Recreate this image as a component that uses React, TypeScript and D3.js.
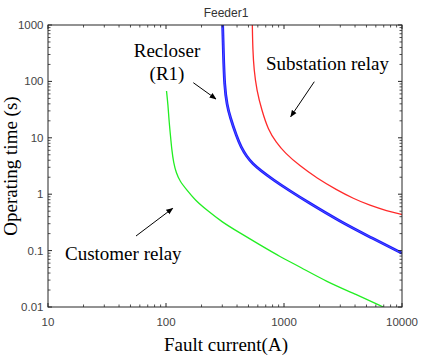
import React from "react";
import * as d3 from "d3";

const xTickValues = [10, 100, 1000, 10000];
const xTickLabels = ["10", "100", "1000", "10000"];
const yTickValues = [0.01, 0.1, 1, 10, 100, 1000];
const yTickLabels = ["0.01", "0.1", "1", "10", "100", "1000"];

const customerCurrent = [101, 104, 106, 109, 112, 116, 122, 131, 150, 176, 221, 298, 424, 626, 925, 1370, 2300, 4000, 6950];
const customerTime = [67.6, 38.2, 20.7, 11.2, 6.08, 3.6, 2.4, 1.7, 1.19, 0.789, 0.525, 0.321, 0.205, 0.126, 0.078, 0.0512, 0.0281, 0.017, 0.01];

const recloserCurrent = [302, 306, 313, 329, 349, 397, 432, 483, 546, 626, 812, 1125, 1557, 2985, 5355, 10000];
const recloserTime = [1000, 361, 80.5, 38.2, 23.4, 10.5, 6.87, 4.62, 3.43, 2.69, 1.79, 1.14, 0.743, 0.328, 0.174, 0.0895];

const substationCurrent = [539, 544, 557, 587, 647, 736, 855, 1019, 1367, 1892, 2797, 3866, 5355, 7420, 10000];
const substationTime = [1000, 361, 159, 70.4, 31.1, 13.7, 8.43, 5.37, 3.16, 1.94, 1.19, 0.839, 0.631, 0.508, 0.436];

const W = 422;
const H = 358;
const L = 48, R = 402, T = 25, B = 307;

export default function App() {
  const x = d3.scaleLog().domain([10, 10000]).range([L, R]);
  const y = d3.scaleLog().domain([0.01, 1000]).range([B, T]);
  const line = d3
    .line<[number, number]>()
    .x((d) => x(d[0]))
    .y((d) => y(d[1]))
    .curve(d3.curveBasis);

  const zip = (a: number[], b: number[]) => a.map((v, i) => [v, b[i]] as [number, number]);

  const xMinor: number[] = [];
  for (let p = 10; p < 10000; p *= 10) for (let k = 2; k <= 9; k++) xMinor.push(k * p);
  const yMinor: number[] = [];
  for (let p = 0.01; p < 1000; p *= 10) for (let k = 2; k <= 9; k++) yMinor.push(k * p);

  const axisColor = "#262626";
  const labelColor = "#444";
  const serif = "'Liberation Serif', 'Times New Roman', serif";
  const sans = "'Liberation Sans', Arial, sans-serif";
  const majorLen = 4;
  const minorLen = 2.5;

  return (
    <svg width={W} height={H} style={{ position: "absolute", left: 0, top: 0, background: "#fff" }}>
      <defs>
        <marker id="ah" viewBox="0 0 10 10" refX="9" refY="5" markerWidth="7" markerHeight="7" orient="auto">
          <path d="M0,1 L10,5 L0,9 Z" fill="#000" />
        </marker>
        <clipPath id="plot">
          <rect x={L} y={T} width={R - L} height={B - T} />
        </clipPath>
      </defs>
      <rect x={0} y={0} width={W} height={H} fill="#fff" />
      {/* curves */}
      <g clipPath="url(#plot)">
        <path d={line(zip(customerCurrent, customerTime)) || ""} fill="none" stroke="#22ee22" strokeWidth={1.3} />
        <path d={line(zip(recloserCurrent, recloserTime)) || ""} fill="none" stroke="#1a1aff" strokeWidth={2.8} />
        <path d={line(zip(recloserCurrent, recloserTime)) || ""} fill="none" stroke="#5a5aff" strokeWidth={0.8} />
        <path d={line(zip(substationCurrent, substationTime)) || ""} fill="none" stroke="#ff2a2a" strokeWidth={1.3} />
      </g>

      {/* frame */}
      <rect x={L} y={T} width={R - L} height={B - T} fill="none" stroke={axisColor} strokeWidth={1} />
      {/* x ticks */}
      {xTickValues.map((v) => (
        <g key={"xt" + v}>
          <line x1={x(v)} x2={x(v)} y1={B} y2={B - majorLen} stroke={axisColor} />
          <line x1={x(v)} x2={x(v)} y1={T} y2={T + majorLen} stroke={axisColor} />
        </g>
      ))}
      {xMinor.map((v) => (
        <g key={"xm" + v}>
          <line x1={x(v)} x2={x(v)} y1={B} y2={B - minorLen} stroke={axisColor} strokeWidth={0.8} />
          <line x1={x(v)} x2={x(v)} y1={T} y2={T + minorLen} stroke={axisColor} strokeWidth={0.8} />
        </g>
      ))}
      {yTickValues.map((v) => (
        <g key={"yt" + v}>
          <line x1={L} x2={L + majorLen} y1={y(v)} y2={y(v)} stroke={axisColor} />
          <line x1={R} x2={R - majorLen} y1={y(v)} y2={y(v)} stroke={axisColor} />
        </g>
      ))}
      {yMinor.map((v) => (
        <g key={"ym" + v}>
          <line x1={L} x2={L + minorLen} y1={y(v)} y2={y(v)} stroke={axisColor} strokeWidth={0.8} />
          <line x1={R} x2={R - minorLen} y1={y(v)} y2={y(v)} stroke={axisColor} strokeWidth={0.8} />
        </g>
      ))}
      {/* tick labels */}
      {xTickValues.map((v, i) => (
        <text key={"xl" + v} x={x(v)} y={326} textAnchor="middle" fontFamily={sans} fontSize={11.5} fill={labelColor}>
          {xTickLabels[i]}
        </text>
      ))}
      {yTickValues.map((v, i) => (
        <text key={"yl" + v} x={43.5} y={y(v) + 4} textAnchor="end" fontFamily={sans} fontSize={11.5} fill={labelColor}>
          {yTickLabels[i]}
        </text>
      ))}
      {/* title */}
      <text x={226} y={17} textAnchor="middle" fontFamily={sans} fontSize={12} fill="#333">
        Feeder1
      </text>
      {/* axis labels */}
      <text x={226} y={351} textAnchor="middle" fontFamily={serif} fontSize={19} fill="#000">
        Fault current(A)
      </text>
      <text transform="translate(17,166) rotate(-90)" textAnchor="middle" fontFamily={serif} fontSize={19} fill="#000">
        Operating time (s)
      </text>
      {/* annotations */}
      <text x={167} y={57} textAnchor="middle" fontFamily={serif} fontSize={19} fill="#000">Recloser</text>
      <text x={167} y={80} textAnchor="middle" fontFamily={serif} fontSize={19} fill="#000">(R1)</text>
      <line x1={193.3} y1={82.7} x2={216} y2={99} stroke="#000" strokeWidth={1} markerEnd="url(#ah)" />
      <text x={327.5} y={70} textAnchor="middle" fontFamily={serif} fontSize={19} fill="#000">Substation relay</text>
      <line x1={314.3} y1={81.7} x2={290.7} y2={116.7} stroke="#000" strokeWidth={1} markerEnd="url(#ah)" />
      <text x={65} y={260} textAnchor="start" fontFamily={serif} fontSize={19} fill="#000">Customer relay</text>
      <line x1={136} y1={236} x2={172.7} y2={208.3} stroke="#000" strokeWidth={1} markerEnd="url(#ah)" />
    </svg>
  );
}
